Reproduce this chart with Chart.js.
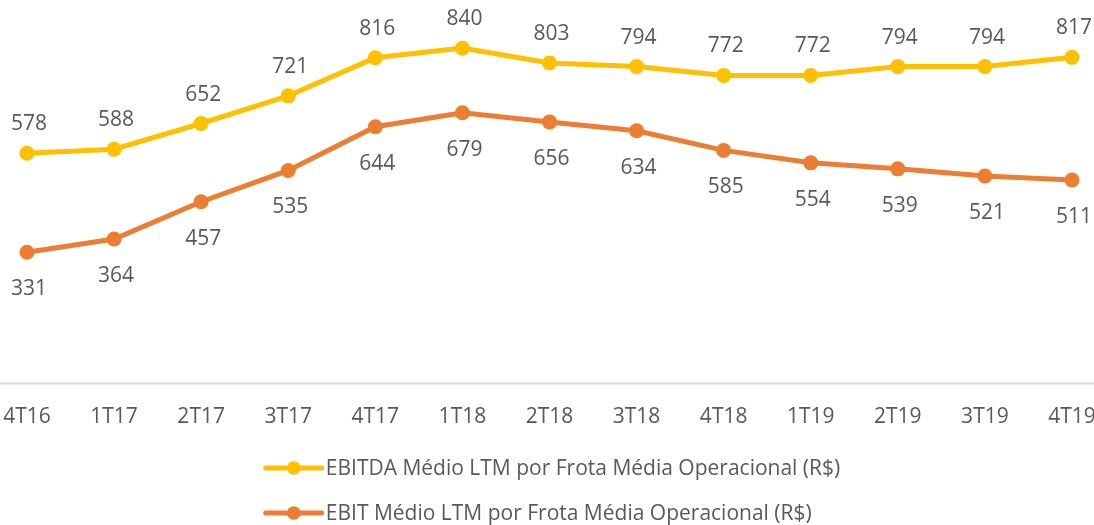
<!DOCTYPE html>
<html><head><meta charset="utf-8">
<script src="https://cdn.jsdelivr.net/npm/chart.js@4.4.1/dist/chart.umd.min.js"></script>
<style>html,body{margin:0;padding:0;background:#fff}#wrap{width:1094px;height:525px;position:relative}</style>
</head><body><div id="wrap"><canvas id="c"></canvas></div>
<script>
const categories = ['4T16','1T17','2T17','3T17','4T17','1T18','2T18','3T18','4T18','1T19','2T19','3T19','4T19'];
const ebitda = [578, 588, 652, 721, 816, 840, 803, 794, 772, 772, 794, 794, 817];
const ebit = [331, 364, 457, 535, 644, 679, 656, 634, 585, 554, 539, 521, 511];
const seriesNames = ['EBITDA Médio LTM por Frota Média Operacional (R$)', 'EBIT Médio LTM por Frota Média Operacional (R$)'];

const FONT = "'Open Sans', sans-serif";
const TEXT = '#595959';
const YELLOW = '#FFC000';
const ORANGE = '#ED7D31';

const axisLine = {
  id: 'axisLine',
  beforeDatasetsDraw(chart) {
    const ctx = chart.ctx, y = chart.chartArea.bottom - 1.5;
    ctx.save();
    ctx.strokeStyle = '#d9d9d9'; ctx.lineWidth = 2;
    ctx.beginPath(); ctx.moveTo(0, y); ctx.lineTo(chart.width, y); ctx.stroke();
    ctx.restore();
  }
};

const dataLabels = {
  id: 'dataLabels',
  afterDatasetsDraw(chart) {
    const ctx = chart.ctx;
    ctx.save();
    ctx.font = '21px ' + FONT;
    ctx.fillStyle = TEXT; ctx.textAlign = 'center'; ctx.textBaseline = 'middle';
    chart.data.datasets.forEach((ds, i) => {
      const meta = chart.getDatasetMeta(i);
      meta.data.forEach((pt, j) => ctx.fillText(String(ds.data[j]), pt.x + 2, pt.y + ds.labelOffset));
    });
    ctx.restore();
  }
};

const customLegend = {
  id: 'customLegend',
  afterDraw(chart) {
    const ctx = chart.ctx;
    ctx.save();
    ctx.font = '21px ' + FONT;
    ctx.textBaseline = 'middle'; ctx.textAlign = 'left';
    const lineW = 56, gap = 4;
    const maxText = Math.max(...chart.data.datasets.map(d => ctx.measureText(d.label).width));
    const startX = (chart.width - (lineW + gap + maxText)) / 2 + 6;
    const rows = [468, 513];
    chart.data.datasets.forEach((ds, i) => {
      const y = rows[i];
      ctx.strokeStyle = ds.borderColor; ctx.lineWidth = 5; ctx.lineCap = 'round';
      ctx.beginPath(); ctx.moveTo(startX, y); ctx.lineTo(startX + lineW, y); ctx.stroke();
      ctx.fillStyle = ds.borderColor;
      ctx.beginPath(); ctx.arc(startX + lineW / 2, y, 6.8, 0, Math.PI * 2); ctx.fill();
      ctx.fillStyle = TEXT;
      ctx.fillText(ds.label, startX + lineW + gap, y + 1);
    });
    ctx.restore();
  }
};

new Chart(document.getElementById('c'), {
  type: 'line',
  data: {
    labels: categories,
    datasets: [
      { label: seriesNames[0], data: ebitda, borderColor: YELLOW, backgroundColor: YELLOW,
        borderWidth: 5, pointRadius: 7.5, pointBorderWidth: 0, pointBackgroundColor: YELLOW,
        tension: 0, clip: false, labelOffset: -29 },
      { label: seriesNames[1], data: ebit, borderColor: ORANGE, backgroundColor: ORANGE,
        borderWidth: 5, pointRadius: 7.5, pointBorderWidth: 0, pointBackgroundColor: ORANGE,
        tension: 0, clip: false, labelOffset: 37 }
    ]
  },
  options: {
    responsive: true, maintainAspectRatio: false, animation: false,
    layout: { autoPadding: false, padding: { left: 27, right: 22, top: 0, bottom: 0 } },
    plugins: { legend: { display: false }, tooltip: { enabled: false } },
    scales: {
      x: {
        offset: false,
        grid: { display: false, drawTicks: false },
        border: { display: false },
        ticks: { font: { family: FONT, size: 21 }, color: TEXT, padding: 19, autoSkip: false, maxRotation: 0 },
        afterFit(s) { s.height = 140; s.paddingLeft = 0; s.paddingRight = 0; }
      },
      y: { display: false, min: 0, max: 960 }
    }
  },
  plugins: [axisLine, dataLabels, customLegend]
});
</script>
</body></html>
